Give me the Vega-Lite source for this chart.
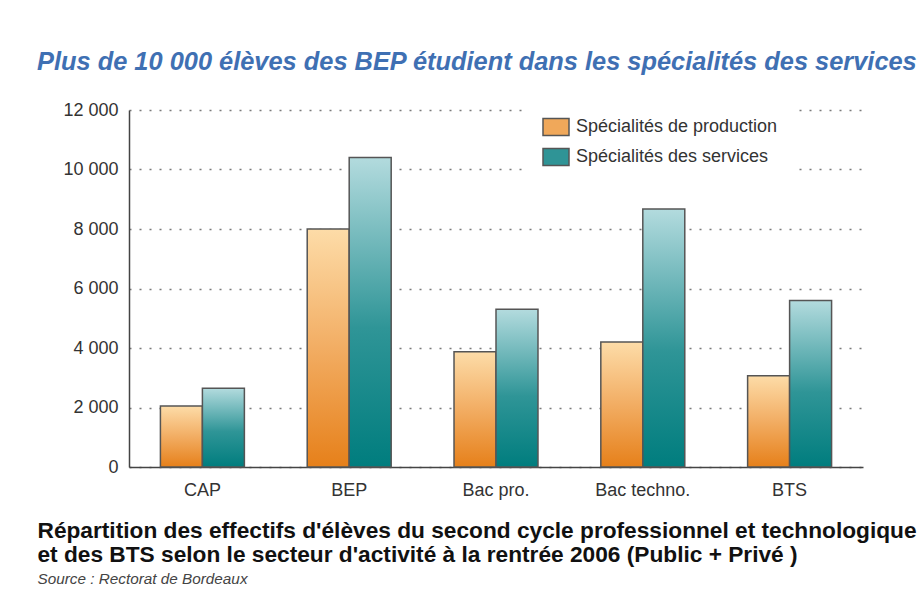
{
  "$schema": "https://vega.github.io/schema/vega-lite/v6.json",
  "autosize": "none",
  "width": 734,
  "height": 357,
  "padding": {"left": 129, "top": 110, "right": 59, "bottom": 147},
  "background": "white",
  "title": {
    "text": "Plus de 10 000 élèves des BEP étudient dans les spécialités des services",
    "anchor": "start",
    "frame": "group",
    "dx": -92,
    "font": "Liberation Sans",
    "fontSize": 25.4,
    "fontStyle": "italic",
    "fontWeight": "bold",
    "color": "#3f70b3",
    "offset": 23
  },
  "data": {
    "values": [
      {"cat": "CAP", "serie": "Spécialités de production", "v": 2050},
      {"cat": "CAP", "serie": "Spécialités des services", "v": 2650},
      {"cat": "BEP", "serie": "Spécialités de production", "v": 8000},
      {"cat": "BEP", "serie": "Spécialités des services", "v": 10400},
      {"cat": "Bac pro.", "serie": "Spécialités de production", "v": 3870},
      {"cat": "Bac pro.", "serie": "Spécialités des services", "v": 5300},
      {"cat": "Bac techno.", "serie": "Spécialités de production", "v": 4200},
      {"cat": "Bac techno.", "serie": "Spécialités des services", "v": 8670},
      {"cat": "BTS", "serie": "Spécialités de production", "v": 3070},
      {"cat": "BTS", "serie": "Spécialités des services", "v": 5600}
    ]
  },
  "encoding": {
    "x": {
      "field": "cat",
      "type": "nominal",
      "sort": ["CAP", "BEP", "Bac pro.", "Bac techno.", "BTS"],
      "scale": {"paddingInner": 0.428, "paddingOuter": 0.214},
      "axis": {
        "labelAngle": 0,
        "labelFontSize": 18,
        "labelFont": "Liberation Sans",
        "labelColor": "#333333",
        "labelPadding": 14,
        "ticks": false,
        "domainColor": "#444444",
        "domainWidth": 1.5,
        "title": ["Répartition des effectifs d'élèves du second cycle professionnel et technologique", "et des BTS selon le secteur d'activité à la rentrée 2006 (Public + Privé )"],
        "titleFont": "Liberation Sans",
        "titleFontSize": 22.7,
        "titleFontWeight": "bold",
        "titleColor": "#111111",
        "titleAlign": "left",
        "titleAnchor": "start",
        "titleBaseline": "alphabetic",
        "titleX": -92,
        "titleY": 70,
        "titleLineHeight": 24
      }
    },
    "xOffset": {
      "field": "serie",
      "type": "nominal",
      "scale": {"domain": ["Spécialités de production", "Spécialités des services"], "paddingInner": 0, "paddingOuter": 0}
    },
    "y": {
      "field": "v",
      "type": "quantitative",
      "scale": {"domain": [0, 12000], "nice": false},
      "axis": {
        "values": [0, 2000, 4000, 6000, 8000, 10000, 12000],
        "labelExpr": "replace(format(datum.value, ','), ',', ' ')",
        "labelFontSize": 18,
        "labelFont": "Liberation Sans",
        "labelColor": "#333333",
        "labelPadding": 11,
        "ticks": false,
        "domainColor": "#444444",
        "domainWidth": 1.5,
        "grid": true,
        "gridColor": "#7a7a7a",
        "gridDash": [2, 8],
        "gridWidth": 1.5,
        "title": "Source : Rectorat de Bordeaux",
        "titleFont": "Liberation Sans",
        "titleFontSize": 15.3,
        "titleFontWeight": "normal",
        "titleFontStyle": "italic",
        "titleColor": "#444444",
        "titleAngle": 0,
        "titleAlign": "left",
        "titleBaseline": "alphabetic",
        "titleX": -92,
        "titleY": 473
      }
    }
  },
  "layer": [
    {
      "mark": {"type": "bar", "opacity": 0},
      "encoding": {
        "color": {
          "field": "serie",
          "type": "nominal",
          "scale": {
            "domain": ["Spécialités de production", "Spécialités des services"],
            "range": ["#f0a85a", "#2f9496"]
          },
          "legend": {
            "orient": "none",
            "legendX": 398,
            "legendY": -12,
            "title": null,
            "fillColor": "white",
            "padding": 18,
            "rowPadding": 6,
            "labelFont": "Liberation Sans",
            "labelFontSize": 18,
            "labelColor": "#333333",
            "labelOffset": 9,
            "labelLimit": 400,
            "symbolType": "M-1.3,-0.85H1.3V0.85H-1.3Z",
            "symbolSize": 400,
            "symbolStrokeColor": "#555555",
            "symbolStrokeWidth": 1.5,
            "symbolOpacity": 1,
            "encode": {
              "symbols": {
                "update": {
                  "fill": [
                    {"test": "datum.value === 'Spécialités de production'", "value": {"gradient": "linear", "x1": 0, "y1": 0, "x2": 0, "y2": 1, "stops": [{"offset": 0, "color": "#fddca8"}, {"offset": 1, "color": "#e6801a"}]}},
                    {"value": {"gradient": "linear", "x1": 0, "y1": 0, "x2": 0, "y2": 1, "stops": [{"offset": 0, "color": "#b3dbde"}, {"offset": 1, "color": "#007d7e"}]}}
                  ],
                  "stroke": {"value": "#555555"},
                  "strokeWidth": {"value": 1.5},
                  "opacity": {"value": 1}
                }
              }
            }
          }
        }
      }
    },
    {
      "transform": [{"filter": "datum.serie === 'Spécialités de production'"}],
      "mark": {
        "type": "bar",
        "stroke": "#555555",
        "strokeWidth": 1.5,
        "color": {"gradient": "linear", "x1": 0, "y1": 0, "x2": 0, "y2": 1, "stops": [{"offset": 0, "color": "#fddca8"}, {"offset": 0.5, "color": "#f2ad63"}, {"offset": 1, "color": "#e6801a"}]}
      }
    },
    {
      "transform": [{"filter": "datum.serie === 'Spécialités des services'"}],
      "mark": {
        "type": "bar",
        "stroke": "#555555",
        "strokeWidth": 1.5,
        "color": {"gradient": "linear", "x1": 0, "y1": 0, "x2": 0, "y2": 1, "stops": [{"offset": 0, "color": "#b3dbde"}, {"offset": 0.55, "color": "#2f9597"}, {"offset": 1, "color": "#007d7e"}]}
      }
    }
  ],
  "config": {"view": {"stroke": null}}
}
